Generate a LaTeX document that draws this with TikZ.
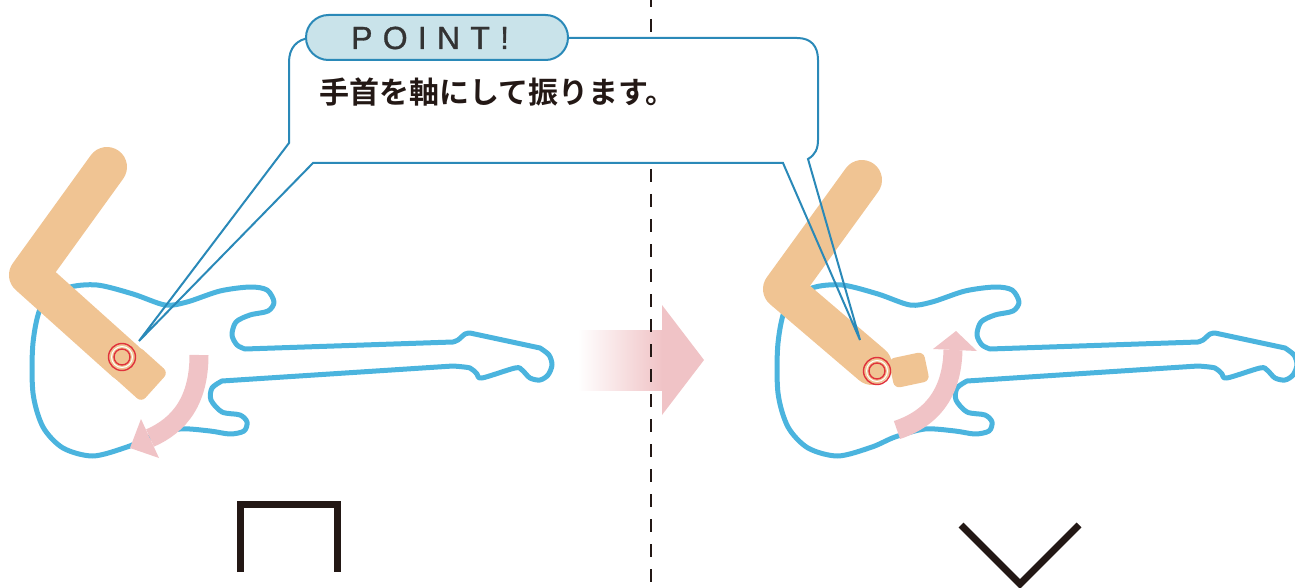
\documentclass[tikz,border=0pt]{standalone}
\usepackage{fontspec}
\setmainfont{Liberation Sans}
\newfontfamily\jpfont{Noto Sans CJK JP}[BoldFont={* Bold}]
\newfontfamily\tabfont{Liberation Sans}[LetterSpace=32, FakeBold=1]

\definecolor{guitarblue}{HTML}{4BB4DE}
\definecolor{armtan}{HTML}{F0C493}
\definecolor{arrowpink}{HTML}{F0C3C6}
\definecolor{calloutblue}{HTML}{2A89B8}
\definecolor{tabfill}{HTML}{C9E3EA}
\definecolor{inkdark}{HTML}{231815}
\definecolor{wristred}{HTML}{E0323C}

\tikzset{
  body/.style={draw=guitarblue, line width=5, line join=round},
  arm/.style={draw=armtan, line width=40, line cap=round, line join=round},
  hand/.style={fill=armtan, rounded corners=6, inner sep=0},
  ring/.style={circle, draw=wristred, line width=1.4, inner sep=0},
  swing/.style={draw=arrowpink, line width=19},
  divider/.style={draw=inkdark, line width=2.5, dash pattern=on 13 off 12, dash phase=6},
  stroke/.style={draw=inkdark, line width=7, line join=miter},
  callout/.style={draw=calloutblue, line width=2},
  tab/.style={draw=calloutblue, line width=2, fill=tabfill, rounded corners=22.5, inner sep=0},
  tabtext/.style={anchor=base west, inner sep=0, text=black!80, font=\tabfont\fontsize{32}{32}\selectfont},
  caption/.style={anchor=west, inner sep=0, text=inkdark, font=\jpfont\bfseries\fontsize{30}{32}\selectfont},
  guitar/.pic={
    \draw[body] plot[smooth] coordinates {(245,349) (237,345) (232,335) (236,322) (250,315) (268,311) (274,302) (267,290) (250,287) (220,291) (187,302) (165,305) (133,294) (97,285) (67,288) (42,305) (33,343) (33,393) (43,427) (63,448) (93,456) (127,447) (150,437) (180,429) (210,431) (230,434) (244,431) (247,422) (240,415) (222,412) (211,400) (212,388) (222,381)}
      -- plot[smooth] coordinates {(453,366) (470,368) (477,374) (482,378) (515,368) (522,370) (530,378) (540,380) (548,375) (552,365) (549,355) (540,348)}
      -- plot[smooth] coordinates {(470,333) (465,334) (458,340) (453,342)}
      -- cycle;
  }
}

\begin{document}
\begin{tikzpicture}[x=1pt, y=-1pt]
\useasboundingbox (0,0) rectangle (1295,588);
\clip (0,0) rectangle (1295,588);

\pic at (0,0) {guitar};
\pic at (745,0) {guitar};

\draw[arm] (107,167) -- (29,275) -- (126,362);
\node[hand, rotate=-42, minimum width=40, minimum height=40] (lhand) at (140,374) {};
\node[ring, minimum size=27] (lwrist) at (122,357) {};
\draw[white, line width=1] (lwrist) circle (10.5);
\node[ring, minimum size=16] (lwristin) at (lwrist) {};

\draw[arm] (862,180) -- (783,289) -- (872,365);
\node[hand, rotate=12, minimum width=36, minimum height=30] (rhand) at (909,370) {};
\node[ring, minimum size=27] (rwrist) at (877,371) {};
\draw[white, line width=1] (rwrist) circle (10.5);
\node[ring, minimum size=16] (rwristin) at (rwrist) {};

\draw[swing] (199,355) .. controls (199,400) and (180,425) .. (150,438);
\fill[arrowpink] (130,448) -- (141,419) -- (159,458) -- cycle;
\draw[swing] (897,430) .. controls (930,419) and (952,395) .. (953,350);
\fill[arrowpink] (956,331) -- (933,349) -- (977,351) -- cycle;

\shade[left color=white, right color=arrowpink] (578,330) rectangle (663,390);
\fill[arrowpink] (662,305) -- (704,360) -- (662,415) -- cycle;

\draw[divider] (651,0) -- (651,588);

\fill[white] (289,38) rectangle (818,163);
\draw[callout] (313,163) -- (783,163) -- (860,340) -- (808,159) .. controls (815,155) and (818,149) .. (818,140) -- (818,60) .. controls (818,46) and (811,38) .. (797,38) -- (310,38) .. controls (297,39) and (289,48) .. (289,62) -- (289,143) -- (139,341) -- cycle;
\node[tab, minimum width=262, minimum height=45] (pointtab) at (437,37.5) {};
\node[tabtext] (pointword) at (351,49) {POINT!};
\node[caption] (howto) at (319,92) {手首を軸にして振ります。};

\draw[stroke] (240.5,572) -- (240.5,504.5) -- (337.5,504.5) -- (337.5,572);
\draw[stroke] (961,525) -- (1020,584) -- (1079,525);
\end{tikzpicture}
\end{document}
